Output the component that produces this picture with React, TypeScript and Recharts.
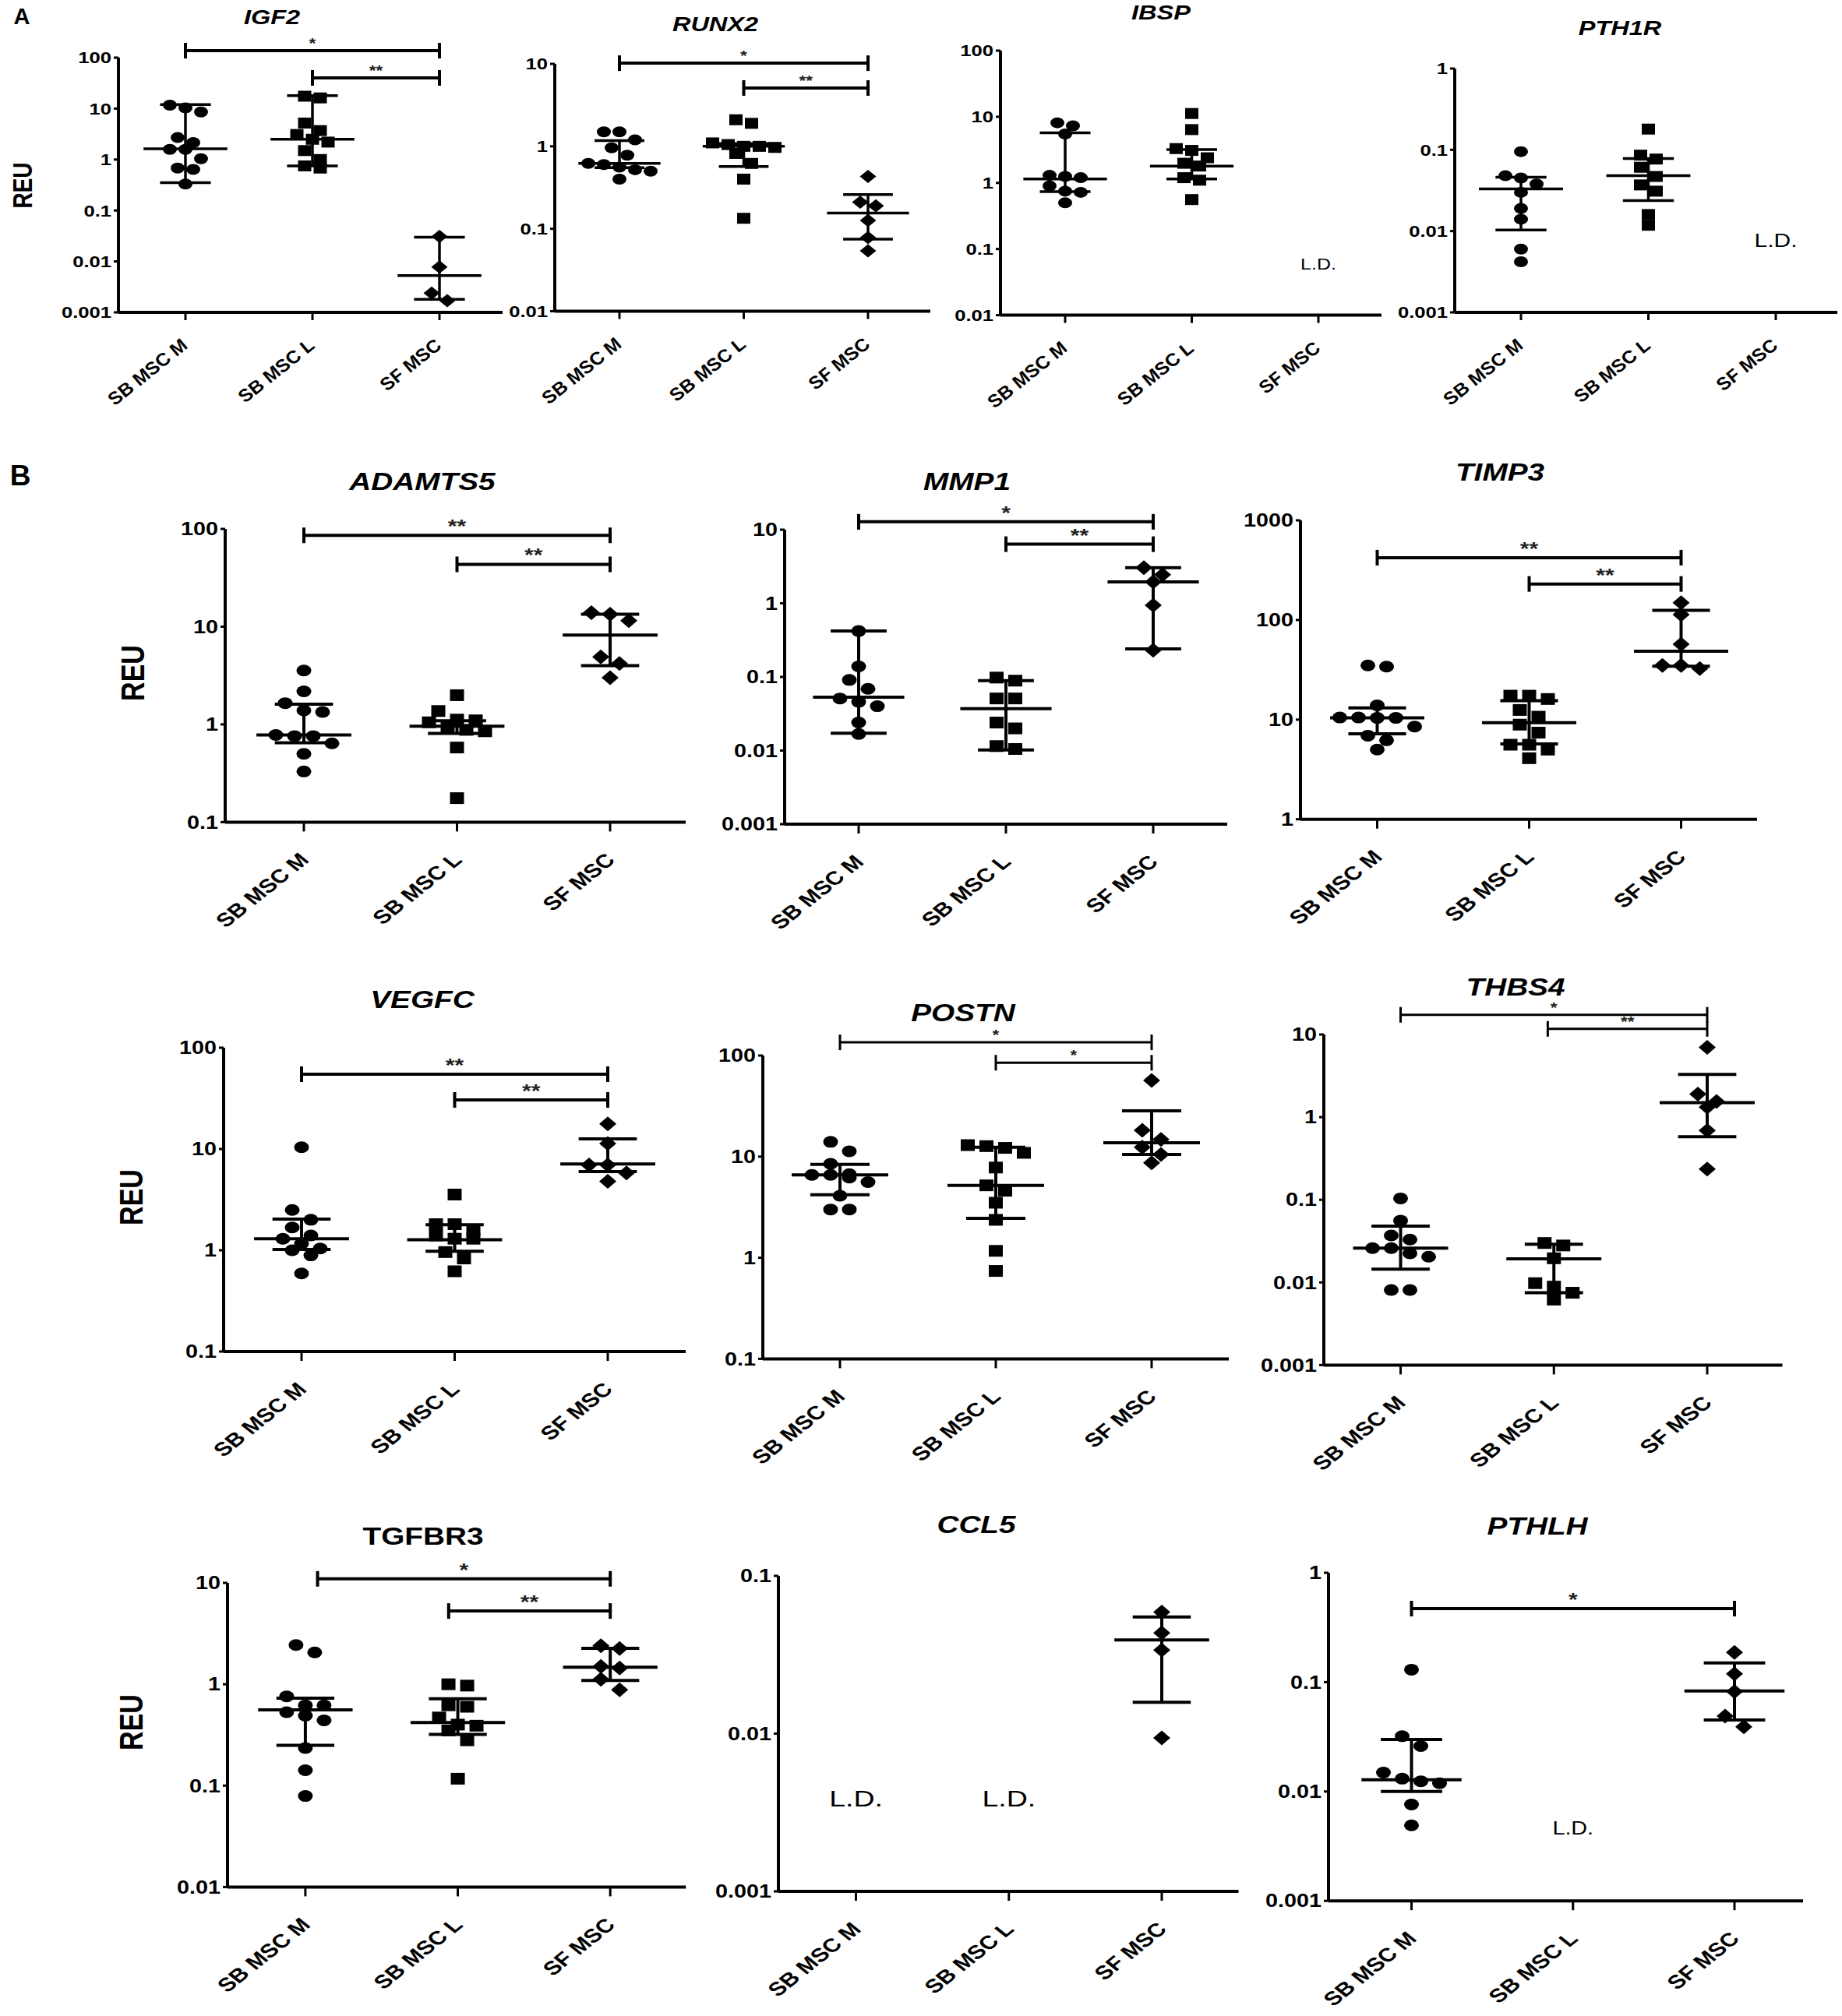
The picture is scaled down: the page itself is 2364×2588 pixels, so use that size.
import React from 'react';
import { ScatterChart, Scatter, XAxis, YAxis, ReferenceLine, ReferenceDot } from 'recharts';

const SX = 1.25;
const FONT = '"Liberation Sans", Arial, Helvetica, sans-serif';

const categories = ['SB MSC M', 'SB MSC L', 'SF MSC'];

// ---------- Panel A data ----------
const igf2M = [11.7, 10.3, 8.6, 2.7, 2.15, 1.58, 1.58, 1.04, 0.68, 0.64, 0.33];
const igf2L = [17.5, 16.2, 5.2, 3.7, 3.1, 2.5, 2.2, 1.5, 1.0, 0.75, 0.68];
const igf2F = [0.031, 0.0078, 0.0024, 0.0017];
const igf2Med = [1.62, 2.5, 0.0053];
const igf2Q1 = [0.35, 0.75, 0.0018];
const igf2Q3 = [12.0, 17.9, 0.03];

const runx2M = [1.5, 1.5, 1.2, 0.96, 0.78, 0.62, 0.6, 0.56, 0.52, 0.5, 0.4];
const runx2L = [2.1, 1.9, 1.1, 1.05, 1.0, 1.0, 0.97, 0.82, 0.62, 0.4, 0.134];
const runx2F = [0.43, 0.21, 0.19, 0.126, 0.078, 0.054];
const runx2Med = [0.62, 1.0, 0.155];
const runx2Q1 = [0.55, 0.57, 0.075];
const runx2Q3 = [1.17, 1.08, 0.26];

const ibspM = [8.1, 7.3, 5.5, 1.3, 1.25, 1.2, 0.9, 0.75, 0.72, 0.5];
const ibspL = [11.2, 6.4, 3.3, 3.1, 2.4, 1.98, 1.8, 1.2, 1.1, 0.56];
const ibspF: number[] = [];
const ibspMed = [1.15, 1.8, null];
const ibspQ1 = [0.74, 1.15, null];
const ibspQ3 = [5.7, 3.2, null];

const pth1rM = [0.095, 0.048, 0.045, 0.038, 0.03, 0.019, 0.014, 0.006, 0.0042];
const pth1rL = [0.18, 0.086, 0.077, 0.061, 0.047, 0.037, 0.031, 0.016, 0.0118];
const pth1rF: number[] = [];
const pth1rMed = [0.033, 0.048, null];
const pth1rQ1 = [0.0103, 0.0237, null];
const pth1rQ3 = [0.046, 0.078, null];

// ---------- Panel B data ----------
const adamts5M = [3.56, 2.18, 1.65, 1.39, 1.34, 0.78, 0.76, 0.76, 0.64, 0.5, 0.33];
const adamts5L = [1.99, 1.37, 1.12, 1.1, 1.05, 0.95, 0.88, 0.85, 0.58, 0.176];
const adamts5F = [13.9, 13.4, 11.5, 4.9, 4.2, 3.0];
const adamts5Med = [0.78, 0.96, 8.2];
const adamts5Q1 = [0.65, 0.81, 4.0];
const adamts5Q3 = [1.61, 1.09, 13.4];

const mmp1M = [0.42, 0.139, 0.091, 0.069, 0.051, 0.046, 0.04, 0.024, 0.0168];
const mmp1L = [0.098, 0.089, 0.051, 0.051, 0.024, 0.02, 0.0115, 0.0105];
const mmp1F = [3.05, 2.45, 1.95, 0.94, 0.23];
const mmp1Med = [0.053, 0.037, 1.95];
const mmp1Q1 = [0.0172, 0.0102, 0.24];
const mmp1Q3 = [0.42, 0.089, 3.05];

const timp3M = [35, 34, 13.9, 10.5, 10.5, 10.4, 10.4, 8.5, 6.9, 6.2, 5.0];
const timp3L = [17.4, 17.4, 16.1, 12.5, 10.7, 8.9, 7.4, 5.6, 5.6, 5.0, 4.1];
const timp3F = [149, 113, 57, 35, 35, 32.5];
const timp3Med = [10.4, 9.3, 48.6];
const timp3Q1 = [7.2, 5.7, 34.4];
const timp3Q3 = [13.1, 15.5, 125];

const vegfcM = [10.4, 2.5, 2.0, 1.68, 1.4, 1.3, 1.16, 1.04, 1.0, 0.89, 0.59];
const vegfcL = [3.55, 1.81, 1.81, 1.59, 1.4, 1.3, 1.3, 0.96, 0.83, 0.62];
const vegfcF = [17.7, 11.3, 6.95, 6.95, 5.8, 4.8];
const vegfcMed = [1.3, 1.27, 7.1];
const vegfcQ1 = [1.02, 0.98, 5.98];
const vegfcQ3 = [2.03, 1.79, 12.6];

const postnM = [14, 11.3, 8.5, 6.7, 6.6, 6.6, 6.2, 5.6, 4.1, 3.0, 3.0];
const postnL = [13, 12.7, 12.2, 10.9, 7.8, 5.2, 4.6, 3.5, 2.37, 1.17, 0.74];
const postnF = [56.7, 18.2, 14.8, 12.4, 10.5, 8.7];
const postnMed = [6.6, 5.2, 13.7];
const postnQ1 = [4.2, 2.45, 10.5];
const postnQ3 = [8.4, 12.4, 28.4];

const thbs4M = [0.104, 0.056, 0.037, 0.033, 0.026, 0.026, 0.0225, 0.0205, 0.0081, 0.0081];
const thbs4L = [0.03, 0.028, 0.0196, 0.0098, 0.0089, 0.0075, 0.0062];
const thbs4F = [7.0, 1.9, 1.55, 1.32, 0.69, 0.236];
const thbs4Med = [0.026, 0.0193, 1.5];
const thbs4Q1 = [0.0145, 0.0075, 0.58];
const thbs4Q3 = [0.048, 0.029, 3.28];

const tgfbr3M = [2.44, 2.06, 0.76, 0.62, 0.62, 0.53, 0.49, 0.44, 0.235, 0.142, 0.079];
const tgfbr3L = [1.0, 0.97, 0.62, 0.6, 0.47, 0.4, 0.39, 0.35, 0.28, 0.117];
const tgfbr3F = [2.4, 2.25, 1.5, 1.45, 1.12, 0.88];
const tgfbr3Med = [0.56, 0.42, 1.47];
const tgfbr3Q1 = [0.25, 0.32, 1.09];
const tgfbr3Q3 = [0.73, 0.72, 2.26];

const ccl5M: number[] = [];
const ccl5L: number[] = [];
const ccl5F = [0.059, 0.0435, 0.0339, 0.0094];
const ccl5Med = [null, null, 0.0393];
const ccl5Q1 = [null, null, 0.0158];
const ccl5Q3 = [null, null, 0.0549];

const pthlhM = [0.13, 0.032, 0.026, 0.0149, 0.0131, 0.0124, 0.0119, 0.0076, 0.0049];
const pthlhL: number[] = [];
const pthlhF = [0.187, 0.119, 0.082, 0.049, 0.039];
const pthlhMed = [0.0128, null, 0.083];
const pthlhQ1 = [0.01, null, 0.045];
const pthlhQ3 = [0.0299, null, 0.15];

// tick label values
const ticks001to100 = [0.001, 0.01, 0.1, 1, 10, 100];
const ticks01to10 = [0.01, 0.1, 1, 10];
const ticks01to100 = [0.01, 0.1, 1, 10, 100];
const ticks001to1 = [0.001, 0.01, 0.1, 1];
const ticks1to100 = [0.1, 1, 10, 100];
const ticks001to10 = [0.001, 0.01, 0.1, 1, 10];
const ticks1to1000 = [1, 10, 100, 1000];
const ticks001to01 = [0.001, 0.01, 0.1];

type Style = {
  yfs: number; xfs: number; italic: boolean; rx: number; ry: number; sqx: number; sqy: number;
  dx: number; dy: number; spacing: number; lineW: number; axisW: number; xTick: number;
  lx: number; ly: number; medHalf: number; capHalf: number;
};

const A_ST: Style = { yfs: 20.5, xfs: 21.5, italic: true, rx: 9, ry: 7, sqx: 8.5, sqy: 7, dx: 10.5, dy: 8.5, spacing: 20, lineW: 3.5, axisW: 4, xTick: 10, lx: 5, ly: 34, medHalf: 0.33, capHalf: 0.2 };
const B_ST: Style = { yfs: 23, xfs: 24.5, italic: false, rx: 9.5, ry: 7.5, sqx: 9, sqy: 7.5, dx: 11, dy: 9.5, spacing: 24, lineW: 4, axisW: 4, xTick: 12, lx: 8, ly: 38, medHalf: 0.31, capHalf: 0.19 };

type Bracket = { from: number; to: number; y: number; label: string };
type LD = { x: number; y: number };
interface PanelCfg {
  title: string; italic: boolean; tx: number; ty: number; tfs: number;
  left: number; top: number; bottom: number; cat1: number; cat3: number; right: number;
  yTicks: number[];
  groups: number[][];
  med: (number | null)[]; q1: (number | null)[]; q3: (number | null)[];
  brackets: Bracket[]; starFs: number; bracketW: number;
  ld: LD[]; ldfs: number;
  big: boolean;
}

const panels: PanelCfg[] = [
  { title: 'IGF2', italic: true, tx: 349, ty: 22, tfs: 26, left: 152, top: 74, bottom: 401, cat1: 238, cat3: 564, right: 645,
    yTicks: ticks001to100, groups: [igf2M, igf2L, igf2F], med: igf2Med, q1: igf2Q1, q3: igf2Q3,
    brackets: [{ from: 1, to: 3, y: 137, label: '*' }, { from: 2, to: 3, y: 40, label: '**' }], starFs: 18, bracketW: 4, ld: [], ldfs: 20, big: false },
  { title: 'RUNX2', italic: true, tx: 918, ty: 31, tfs: 26, left: 712, top: 82, bottom: 399.5, cat1: 795, cat3: 1114, right: 1194,
    yTicks: ticks01to10, groups: [runx2M, runx2L, runx2F], med: runx2Med, q1: runx2Q1, q3: runx2Q3,
    brackets: [{ from: 1, to: 3, y: 10.2, label: '*' }, { from: 2, to: 3, y: 5.1, label: '**' }], starFs: 18, bracketW: 4, ld: [], ldfs: 20, big: false },
  { title: 'IBSP', italic: true, tx: 1490, ty: 15.5, tfs: 26, left: 1284, top: 65.4, bottom: 405, cat1: 1367, cat3: 1692, right: 1773,
    yTicks: ticks01to100, groups: [ibspM, ibspL, ibspF], med: ibspMed, q1: ibspQ1, q3: ibspQ3,
    brackets: [], starFs: 18, bracketW: 4, ld: [{ x: 3, y: 0.06 }], ldfs: 20, big: false },
  { title: 'PTH1R', italic: true, tx: 2079, ty: 36, tfs: 26, left: 1867, top: 88, bottom: 401, cat1: 1952, cat3: 2279, right: 2358,
    yTicks: ticks001to1, groups: [pth1rM, pth1rL, pth1rF], med: pth1rMed, q1: pth1rQ1, q3: pth1rQ3,
    brackets: [], starFs: 18, bracketW: 4, ld: [{ x: 3, y: 0.0078 }], ldfs: 24, big: false },
  { title: 'ADAMTS5', italic: true, tx: 541.6, ty: 618, tfs: 31, left: 289, top: 679.4, bottom: 1055.8, cat1: 390, cat3: 783, right: 880,
    yTicks: ticks1to100, groups: [adamts5M, adamts5L, adamts5F], med: adamts5Med, q1: adamts5Q1, q3: adamts5Q3,
    brackets: [{ from: 1, to: 3, y: 86, label: '**' }, { from: 2, to: 3, y: 43.4, label: '**' }], starFs: 24, bracketW: 4, ld: [], ldfs: 22, big: true },
  { title: 'MMP1', italic: true, tx: 1240.5, ty: 618, tfs: 31, left: 1007, top: 680, bottom: 1058, cat1: 1102, cat3: 1480, right: 1575,
    yTicks: ticks001to10, groups: [mmp1M, mmp1L, mmp1F], med: mmp1Med, q1: mmp1Q1, q3: mmp1Q3,
    brackets: [{ from: 1, to: 3, y: 12.8, label: '*' }, { from: 2, to: 3, y: 6.36, label: '**' }], starFs: 24, bracketW: 4, ld: [], ldfs: 22, big: true },
  { title: 'TIMP3', italic: true, tx: 1925, ty: 606, tfs: 31, left: 1669, top: 668, bottom: 1051.7, cat1: 1767.5, cat3: 2157.5, right: 2255,
    yTicks: ticks1to1000, groups: [timp3M, timp3L, timp3F], med: timp3Med, q1: timp3Q1, q3: timp3Q3,
    brackets: [{ from: 1, to: 3, y: 422, label: '**' }, { from: 2, to: 3, y: 230, label: '**' }], starFs: 24, bracketW: 4, ld: [], ldfs: 22, big: true },
  { title: 'VEGFC', italic: true, tx: 541.6, ty: 1282.6, tfs: 31, left: 287, top: 1345, bottom: 1735, cat1: 387, cat3: 780, right: 880,
    yTicks: ticks1to100, groups: [vegfcM, vegfcL, vegfcF], med: vegfcMed, q1: vegfcQ1, q3: vegfcQ3,
    brackets: [{ from: 1, to: 3, y: 54.8, label: '**' }, { from: 2, to: 3, y: 30.5, label: '**' }], starFs: 24, bracketW: 4, ld: [], ldfs: 22, big: true },
  { title: 'POSTN', italic: true, tx: 1235.6, ty: 1299.5, tfs: 31, left: 979, top: 1355.4, bottom: 1744.8, cat1: 1078, cat3: 1478, right: 1577,
    yTicks: ticks1to100, groups: [postnM, postnL, postnF], med: postnMed, q1: postnQ1, q3: postnQ3,
    brackets: [{ from: 1, to: 3, y: 135, label: '*' }, { from: 2, to: 3, y: 84.8, label: '*' }], starFs: 18, bracketW: 3, ld: [], ldfs: 22, big: true },
  { title: 'THBS4', italic: true, tx: 1945, ty: 1267, tfs: 31, left: 1699, top: 1327.6, bottom: 1752, cat1: 1797.5, cat3: 2191, right: 2287.5,
    yTicks: ticks001to10, groups: [thbs4M, thbs4L, thbs4F], med: thbs4Med, q1: thbs4Q1, q3: thbs4Q3,
    brackets: [{ from: 1, to: 3, y: 17.3, label: '*' }, { from: 1.96, to: 3, y: 11.7, label: '**' }], starFs: 18, bracketW: 3, ld: [], ldfs: 22, big: true },
  { title: 'TGFBR3', italic: false, tx: 543, ty: 1972, tfs: 31, left: 291.8, top: 2031.6, bottom: 2422, cat1: 391.7, cat3: 783, right: 880,
    yTicks: ticks01to10, groups: [tgfbr3M, tgfbr3L, tgfbr3F], med: tgfbr3Med, q1: tgfbr3Q1, q3: tgfbr3Q3,
    brackets: [{ from: 1.08, to: 3, y: 10.96, label: '*' }, { from: 1.94, to: 3, y: 5.28, label: '**' }], starFs: 24, bracketW: 4, ld: [], ldfs: 22, big: true },
  { title: 'CCL5', italic: true, tx: 1252.6, ty: 1957, tfs: 31, left: 999, top: 2023, bottom: 2428, cat1: 1098.5, cat3: 1491, right: 1589.5,
    yTicks: ticks001to01, groups: [ccl5M, ccl5L, ccl5F], med: ccl5Med, q1: ccl5Q1, q3: ccl5Q3,
    brackets: [], starFs: 24, bracketW: 4, ld: [{ x: 1, y: 0.0039 }, { x: 2, y: 0.0039 }], ldfs: 30, big: true },
  { title: 'PTHLH', italic: true, tx: 1972.5, ty: 1959, tfs: 31, left: 1705, top: 2019.4, bottom: 2440.6, cat1: 1811.5, cat3: 2226, right: 2314,
    yTicks: ticks001to1, groups: [pthlhM, pthlhL, pthlhF], med: pthlhMed, q1: pthlhQ1, q3: pthlhQ3,
    brackets: [{ from: 1, to: 3, y: 0.47, label: '*' }], starFs: 24, bracketW: 4, ld: [{ x: 2, y: 0.0046 }], ldfs: 23, big: true },
];

function swarm(vals: number[], g: number, thr: number) {
  const s = [...vals].sort((a, b) => b - a);
  const out: { x: number; y: number; off: number }[] = [];
  let i = 0;
  while (i < s.length) {
    const l0 = Math.log10(s[i]);
    let j = i + 1;
    while (j < s.length && l0 - Math.log10(s[j]) < thr) j++;
    const n = j - i;
    for (let k = 0; k < n; k++) out.push({ x: g, y: s[i + k], off: k - (n - 1) / 2 });
    i = j;
  }
  return out;
}

function marker(kind: number, st: Style) {
  return (p: any) => {
    const { cx, cy, payload } = p;
    if (cx == null || cy == null) return <g />;
    const x = cx + ((payload && payload.off) || 0) * st.spacing;
    if (kind === 0) return <ellipse cx={x} cy={cy} rx={st.rx} ry={st.ry} fill="#000" />;
    if (kind === 1) return <rect x={x - st.sqx} y={cy - st.sqy} width={2 * st.sqx} height={2 * st.sqy} fill="#000" />;
    return <polygon points={`${x},${cy - st.dy} ${x + st.dx},${cy} ${x},${cy + st.dy} ${x - st.dx},${cy}`} fill="#000" />;
  };
}

function Panel({ c }: { c: PanelCfg }) {
  const st = c.big ? B_ST : A_ST;
  const YW = 110, MT = 60, MR = 12, XH = 170;
  const W = YW + (c.right - c.left) + MR;
  const H = MT + (c.bottom - c.top) + XH;
  const sp = (c.cat3 - c.cat1) / 2;
  const xmin = 1 - (c.cat1 - c.left) / sp;
  const xmax = 3 + (c.right - c.cat3) / sp;
  const yMin = c.yTicks[0];
  const yMax = c.yTicks[c.yTicks.length - 1];
  const decPx = (c.bottom - c.top) / Math.log10(yMax / yMin);
  const thr = (2 * st.ry - 1) / decPx;

  const xTick = (p: any) => {
    const { x, y, payload } = p;
    return (
      <g transform={`translate(${x + st.lx},${y + st.ly}) scale(${SX},1) rotate(-45)`}>
        <text x={0} y={0} textAnchor="end" fontSize={st.xfs} fontWeight="bold" fontStyle={st.italic ? 'italic' : 'normal'} fontFamily={FONT} fill="#000">
          {categories[Math.round(payload.value) - 1]}
        </text>
      </g>
    );
  };
  const yTick = (p: any) => {
    const { x, y, payload } = p;
    return (
      <g transform={`translate(${x},${y}) scale(${SX},1)`}>
        <text x={0} y={0} dy="0.36em" textAnchor="end" fontSize={st.yfs} fontWeight="bold" fontFamily={FONT} fill="#000">
          {String(payload.value)}
        </text>
      </g>
    );
  };

  const summary: React.ReactNode[] = [];
  [0, 1, 2].forEach((g) => {
    const m = c.med[g], a = c.q1[g], b = c.q3[g];
    if (m == null || a == null || b == null) return;
    const x = g + 1;
    const common = { stroke: '#000', strokeWidth: st.lineW, ifOverflow: 'visible' as const };
    summary.push(<ReferenceLine key={`v${g}`} segment={[{ x, y: a }, { x, y: b }]} {...common} />);
    summary.push(<ReferenceLine key={`m${g}`} segment={[{ x: x - st.medHalf, y: m }, { x: x + st.medHalf, y: m }]} {...common} />);
    summary.push(<ReferenceLine key={`a${g}`} segment={[{ x: x - st.capHalf, y: a }, { x: x + st.capHalf, y: a }]} {...common} />);
    summary.push(<ReferenceLine key={`b${g}`} segment={[{ x: x - st.capHalf, y: b }, { x: x + st.capHalf, y: b }]} {...common} />);
  });

  const brackets = c.brackets.map((br, i) => (
    <ReferenceLine
      key={`br${i}`}
      segment={[{ x: br.from, y: br.y }, { x: br.to, y: br.y }]}
      ifOverflow="visible"
      stroke="#000"
      strokeWidth={c.bracketW}
      shape={(p: any) => {
        const { x1, x2, y1 } = p;
        const cap = 10;
        return (
          <g>
            <line x1={x1} y1={y1} x2={x2} y2={y1} stroke="#000" strokeWidth={c.bracketW} />
            <line x1={x1} y1={y1 - cap} x2={x1} y2={y1 + cap} stroke="#000" strokeWidth={c.bracketW} />
            <line x1={x2} y1={y1 - cap} x2={x2} y2={y1 + cap} stroke="#000" strokeWidth={c.bracketW} />
            <g transform={`translate(${(x1 + x2) / 2},${y1 - 3}) scale(${SX},1)`}>
              <text x={0} y={0} textAnchor="middle" fontSize={c.starFs} fontWeight="bold" fontFamily={FONT} fill="#222">{br.label}</text>
            </g>
          </g>
        );
      }}
    />
  ));

  const lds = c.ld.map((d, i) => (
    <ReferenceDot
      key={`ld${i}`}
      x={d.x}
      y={d.y}
      r={0}
      ifOverflow="visible"
      shape={(p: any) => (
        <g transform={`translate(${p.cx},${p.cy}) scale(${SX},1)`}>
          <text x={0} y={0} dy="0.36em" textAnchor="middle" fontSize={c.ldfs} fontFamily={FONT} fill="#000">L.D.</text>
        </g>
      )}
    />
  ));

  return (
    <div style={{ position: 'absolute', left: c.left - YW, top: c.top - MT, width: W, height: H }}>
      <ScatterChart width={W} height={H} margin={{ top: MT, right: MR, bottom: 0, left: 0 }}>
        <XAxis
          type="number"
          dataKey="x"
          domain={[xmin, xmax]}
          ticks={[1, 2, 3]}
          allowDataOverflow
          interval={0}
          height={XH}
          tickSize={st.xTick}
          tickMargin={0}
          axisLine={{ stroke: '#000', strokeWidth: st.axisW }}
          tickLine={{ stroke: '#000', strokeWidth: 3 }}
          tick={xTick}
        />
        <YAxis
          type="number"
          dataKey="y"
          scale="log"
          domain={[yMin, yMax]}
          ticks={c.yTicks}
          allowDataOverflow
          interval={0}
          width={YW}
          tickSize={6}
          tickMargin={3}
          axisLine={{ stroke: '#000', strokeWidth: st.axisW }}
          tickLine={{ stroke: '#000', strokeWidth: 3 }}
          tick={yTick}
        />
        {c.groups.map((vals, g) =>
          vals.length ? (
            <Scatter key={`s${g}`} data={swarm(vals, g + 1, thr)} shape={marker(g, st)} isAnimationActive={false} />
          ) : null
        )}
        {summary}
        {brackets}
        {lds}
      </ScatterChart>
    </div>
  );
}

const textDiv = (key: string, text: string, x: number, y: number, fs: number, opts: { italic?: boolean; rotate?: boolean; bold?: boolean; stretch?: number } = {}) => (
  <div
    key={key}
    style={{
      position: 'absolute',
      left: x,
      top: y,
      transform: `translate(-50%,-50%) scaleX(${opts.stretch ?? SX})${opts.rotate ? ' rotate(-90deg)' : ''}`,
      fontFamily: FONT,
      fontWeight: opts.bold === false ? 'normal' : 'bold',
      fontStyle: opts.italic ? 'italic' : 'normal',
      fontSize: fs,
      lineHeight: 1,
      whiteSpace: 'nowrap',
      color: '#000',
    }}
  >
    {text}
  </div>
);

export default function App() {
  return (
    <div style={{ position: 'absolute', left: 0, top: 0, width: 2364, height: 2588, background: '#fff', overflow: 'hidden' }}>
      {panels.map((c) => (
        <Panel key={c.title} c={c} />
      ))}
      {panels.map((c) => textDiv(`t-${c.title}`, c.title, c.tx, c.ty, c.tfs, { italic: c.italic }))}
      {textDiv('A', 'A', 28, 21, 29, { stretch: 1 })}
      {textDiv('B', 'B', 26, 610, 37, { stretch: 1 })}
      {textDiv('reuA', 'REU', 30, 238, 28, { rotate: true })}
      {textDiv('reuB1', 'REU', 170, 864, 34, { rotate: true })}
      {textDiv('reuB2', 'REU', 168, 1537, 34, { rotate: true })}
      {textDiv('reuB3', 'REU', 168, 2211, 34, { rotate: true })}
    </div>
  );
}
